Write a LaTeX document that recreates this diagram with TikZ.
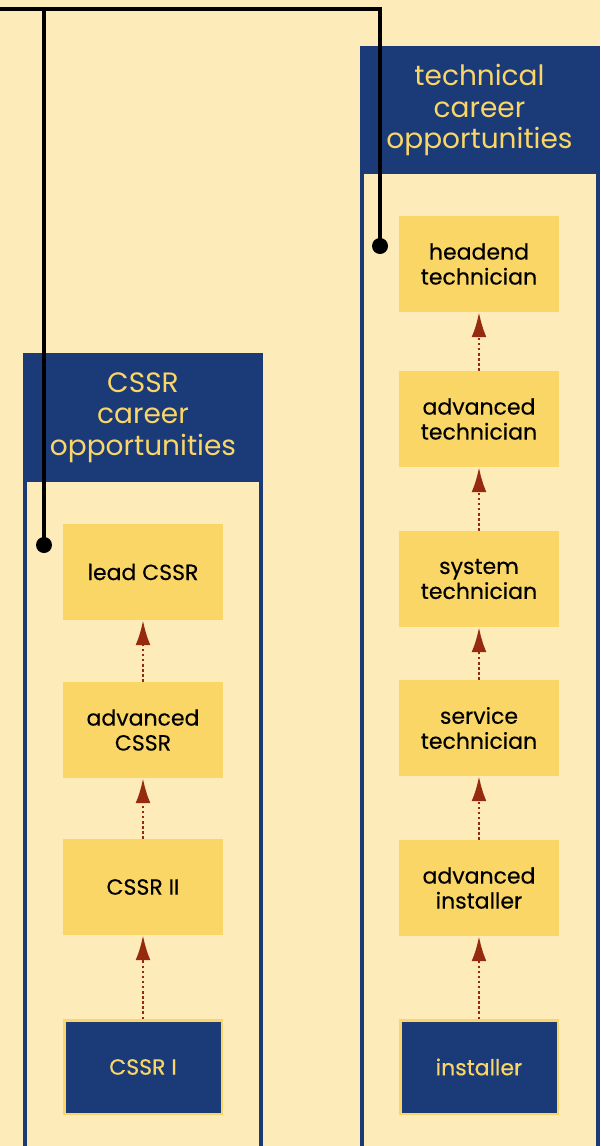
\documentclass[tikz,border=0pt]{standalone}
\usepackage{fontspec}
\setmainfont{Poppins}[FakeBold=0.3]
\newfontfamily\hdrfont{Poppins}
\usetikzlibrary{arrows.meta}
\definecolor{bg}{HTML}{FEEBBA}
\definecolor{navy}{HTML}{1B3A78}
\definecolor{gold}{HTML}{FAD666}
\definecolor{rust}{HTML}{962A0F}
\begin{document}
\begin{tikzpicture}[x=1pt,y=-1pt,
  lane/.style={draw=navy,line width=4pt},
  header/.style={fill=navy,text=gold,font=\hdrfont\fontsize{28}{31.5}\selectfont,align=center,inner sep=0pt,minimum width=240pt,minimum height=128pt},
  stepbox/.style={fill=gold,minimum width=160pt,minimum height=96pt,align=center,font=\fontsize{22}{25}\selectfont,inner sep=0pt,text=black},
  startbox/.style={stepbox,fill=navy,draw=gold,line width=2.5pt,text=gold,minimum width=157.5pt,minimum height=93.5pt},
  up/.style={draw=rust,line width=2.7pt,dash pattern=on 2.5pt off 2.6pt,-{Latex[length=25pt,width=15pt,fill=rust]}},
  dot/.style={circle,fill=black,inner sep=0pt,minimum size=16pt},
  wire/.style={line width=4pt,draw=black}
]
\useasboundingbox (0,0) rectangle (600,1146);
\clip (0,0) rectangle (600,1146);
\fill[bg] (0,0) rectangle (600,1146);
% lanes
\draw[lane] (25,355) rectangle (261,1160);
\draw[lane] (362,48) rectangle (598,1160);
\node[header] (hL) at (143,417.5) {CSSR\\career\\opportunities};
\node[header] (hR) at (479.5,110) {technical\\career\\opportunities};
% left column
\node[stepbox] (lead) at (143,572) {lead CSSR};
\node[stepbox] (acssr) at (143,730) {advanced\\CSSR};
\node[stepbox] (c2) at (143,887) {CSSR II};
\node[startbox] (c1) at (143,1067) {CSSR I};
% right column
\node[stepbox] (head) at (479,264) {headend\\technician};
\node[stepbox] (atech) at (479,419) {advanced\\technician};
\node[stepbox] (sys) at (479,579) {system\\technician};
\node[stepbox] (serv) at (479,728) {service\\technician};
\node[stepbox] (ainst) at (479,888) {advanced\\installer};
\node[startbox] (inst) at (479,1067) {installer};
% arrows
\draw[up] (c1.north) -- (c2.south);
\draw[up] (c2.north) -- (acssr.south);
\draw[up] (acssr.north) -- (lead.south);
\draw[up] (inst.north) -- (ainst.south);
\draw[up] (ainst.north) -- (serv.south);
\draw[up] (serv.north) -- (sys.south);
\draw[up] (sys.north) -- (atech.south);
\draw[up] (atech.north) -- (head.south);
% wires
\coordinate (src) at (0,9);
\coordinate (jn) at (44,9);
\node[dot] (dL) at (44,545) {};
\node[dot] (dR) at (380,246) {};
\draw[wire] (src) -| (dR.center);
\draw[wire] (jn) -- (dL.center);
\end{tikzpicture}
\end{document}
